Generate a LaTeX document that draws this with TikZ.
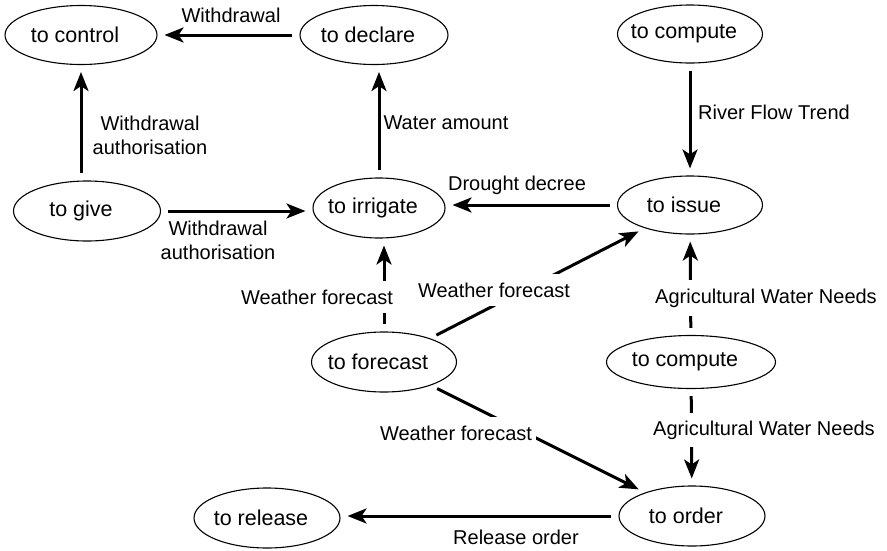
\documentclass[tikz,border=0pt]{standalone}
\usepackage{fontspec}
\setmainfont{Liberation Sans}
\usetikzlibrary{shapes.geometric,arrows.meta,calc}
\begin{document}
\begin{tikzpicture}[x=1pt,y=-1pt,
  act/.style={ellipse,draw,line width=1.1pt,inner sep=0pt,minimum height=58pt,
    font=\fontsize{21.5}{26}\selectfont,
    execute at begin node={\hspace*{-12pt}}},
  flow/.style={line width=3pt,-{Stealth[length=19pt,width=15pt,inset=5pt]},
    shorten >=7pt,shorten <=7pt},
  lbl/.style={font=\fontsize{20}{24}\selectfont,inner sep=0pt,align=center},
  gaplbl/.style={lbl,fill=white,inner xsep=4pt,inner ysep=9pt}]
\useasboundingbox (0,0) rectangle (887,550);

% activities
\node[act,minimum width=152pt,minimum height=59pt] (ctrl) at (81,35) {to control};
\node[act,minimum width=148pt,minimum height=59pt] (decl) at (374,35) {to declare};
\node[act,minimum width=145pt] (comp1) at (690,34) {to compute};
\node[act,minimum width=145pt] (issue) at (690,205) {to issue};
\node[act,minimum width=147pt,minimum height=60pt] (give) at (87,211) {to give};
\node[act,minimum width=132pt,minimum height=60pt] (irr) at (379,208) {to irrigate};
\node[act,minimum width=145pt,minimum height=60pt] (fore) at (384,362) {to forecast};
\node[act,minimum width=169pt,minimum height=53pt] (comp2) at (691,362) {to compute};
\node[act,minimum width=146pt,minimum height=60pt] (release) at (267,518) {to release};
\node[act,minimum width=146pt,minimum height=60pt] (order) at (692,516) {to order};

% flows
\draw[flow] (decl) -- (ctrl);
\draw[flow] (give.north -| ctrl.south) -- (ctrl.south);
\draw[flow] (irr.north) -- (decl.south -| irr.north);
\draw[flow] (comp1) -- (issue);
\draw[flow] (issue.west) -- (issue.west -| irr.east);
\draw[flow] (give.east) -- (give.east -| irr.west);
\draw[flow] (fore.north) -- (fore.north |- irr.south);
\draw[flow] (fore) -- (issue);
\draw[flow] (fore) -- (order);
\draw[flow] (comp2) -- (issue);
\draw[flow] (comp2) -- (order);
\draw[flow] (order.west) -- (order.west -| release.east);

% flow labels
\node[lbl] (lwd) at (231,15) {Withdrawal};
\node[lbl] (lauth1) at (150,135) {Withdrawal\\authorisation};
\node[lbl] (lwater) at (446,123) {Water amount};
\node[lbl] (lriver) at (774,112) {River Flow Trend};
\node[lbl] (ldrought) at (517,185) {Drought decree};
\node[lbl] (lauth2) at (218,240) {Withdrawal\\authorisation};
\node[gaplbl] (lwf1) at (317,297) {Weather forecast};
\node[gaplbl] (lwf2) at (494,290) {Weather forecast};
\node[gaplbl] (lagri1) at (766,298) {Agricultural Water Needs};
\node[gaplbl] (lwf3) at (456,433) {Weather forecast};
\node[gaplbl,inner ysep=8pt] (lagri2) at (764,430) {Agricultural Water Needs};
\node[lbl] (lrel) at (516,537) {Release order};
\end{tikzpicture}
\end{document}
